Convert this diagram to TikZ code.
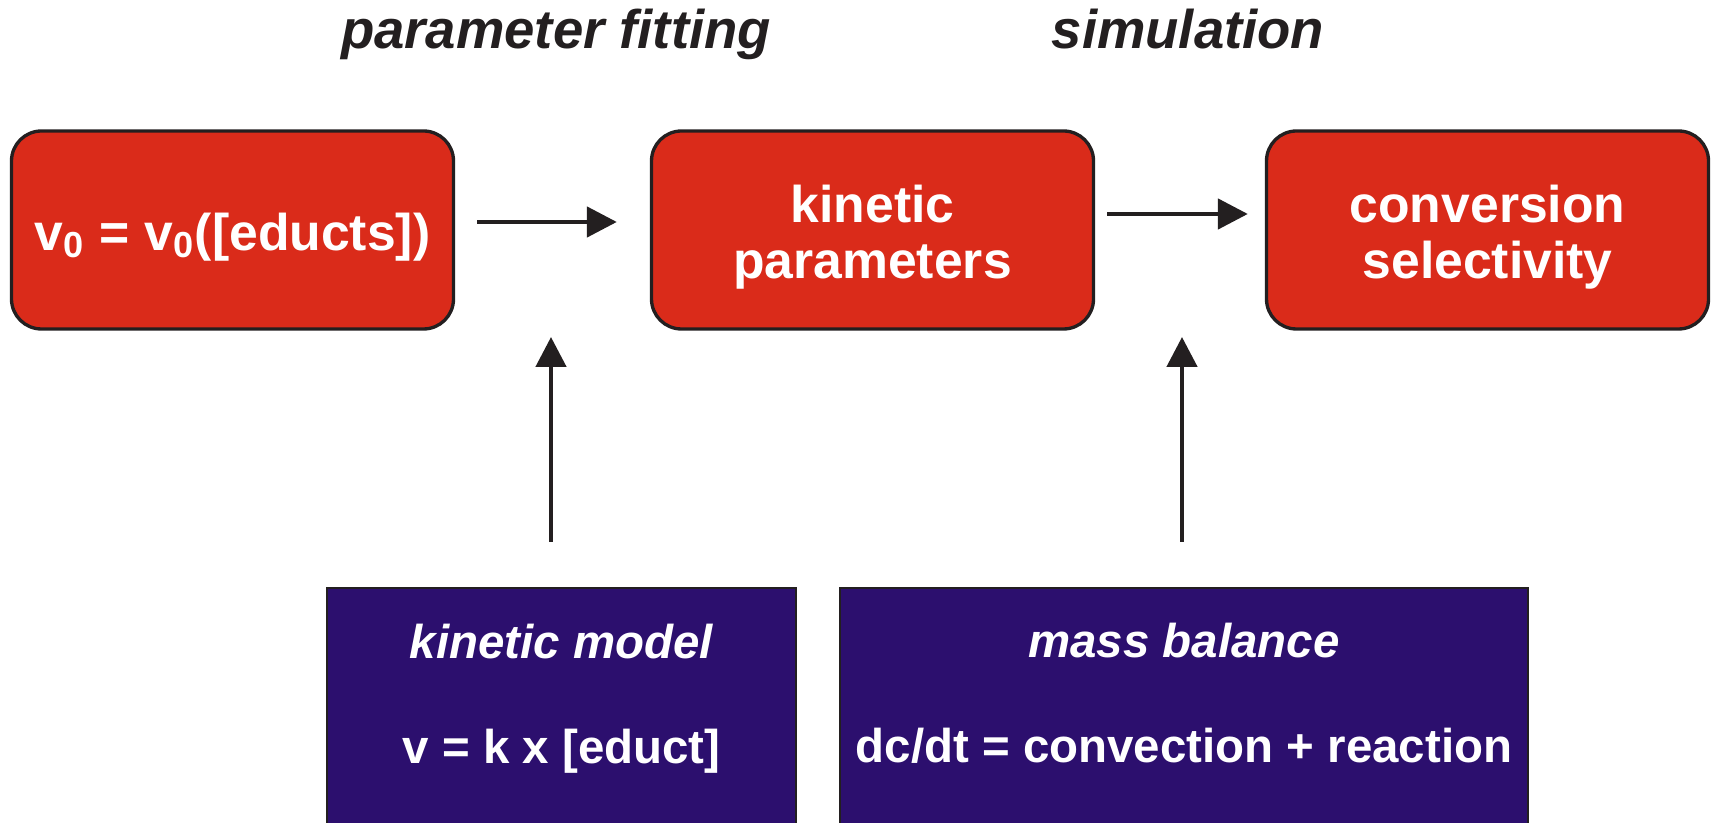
\documentclass[tikz,border=0pt]{standalone}
\usepackage{fontspec}
\setmainfont{Liberation Sans}
\usetikzlibrary{positioning,arrows.meta}
\definecolor{boxred}{RGB}{218,43,26}
\definecolor{boxblue}{RGB}{44,15,110}
\definecolor{inkgray}{RGB}{35,31,32}
\newcommand{\boxstrut}{\rule{0pt}{0.51cm}}

\begin{document}
\begin{tikzpicture}[
    redbox/.style={draw=inkgray, line width=0.95pt, fill=boxred, rounded corners=0.3cm, minimum width=4.42cm, minimum height=1.98cm, align=center, text=white, font=\fontsize{14.7}{15.9}\selectfont\bfseries},
    bluebox/.style={draw=inkgray, line width=0.6pt, fill=boxblue, minimum height=2.8cm, anchor=north},
    bluetext/.style={anchor=base, text=white, font=\fontsize{13.5}{16}\selectfont\bfseries},
    steptitle/.style={anchor=base, text=inkgray, font=\fontsize{15.5}{18}\selectfont\bfseries\itshape},
    flow/.style={-{Triangle[length=0.3cm,width=0.3cm]}, inkgray, line width=1.35pt}]
                \useasboundingbox (0,0) rectangle (17.12,8.23);
                % step titles
                \node[steptitle] (fittitle) at (5.56,7.74) {parameter fitting};
                \node[steptitle] (simtitle) at (11.88,7.74) {simulation};
                % upper row
                \node[redbox] (v0box) at (2.325,5.93) {\boxstrut v\textsubscript{0} = v\textsubscript{0}([educts])};
                \node[redbox] (kinpar) at (8.725,5.93) {\boxstrut kinetic\\parameters};
                \node[redbox] (convsel) at (14.875,5.93) {\boxstrut conversion\\selectivity};
                % lower row
                \node[bluebox, minimum width=4.69cm] (kinbox) at (5.615,2.36) {};
                \node[bluetext] (kinhead) at ([yshift=-0.72cm]kinbox.north) {\itshape kinetic model};
                \node[bluetext] (kineq) at ([yshift=-1.77cm]kinbox.north) {v = k x [educt]};
                \node[bluebox, minimum width=6.88cm] (massbox) at (11.84,2.36) {};
                \node[bluetext] (masshead) at ([yshift=-0.71cm]massbox.north) {\itshape mass balance};
                \node[bluetext] (masseq) at ([yshift=-1.76cm]massbox.north) {dc/dt = convection + reaction};
                % arrows
                \coordinate (fitpt) at (5.51,4.86);
                \coordinate (simpt) at (11.82,4.86);
                \draw[flow, shorten <=0.22cm, shorten >=0.33cm] ([yshift=0.08cm]v0box.east) -- ([yshift=0.08cm]kinpar.west);
                \draw[flow, shorten <=0.12cm, shorten >=0.17cm] ([yshift=0.16cm]kinpar.east) -- ([yshift=0.16cm]convsel.west);
                \draw[flow, shorten <=0.45cm] (kinbox.north -| fitpt) -- (fitpt);
                \draw[flow, shorten <=0.45cm] (massbox.north -| simpt) -- (simpt);
            \end{tikzpicture}
\end{document}
